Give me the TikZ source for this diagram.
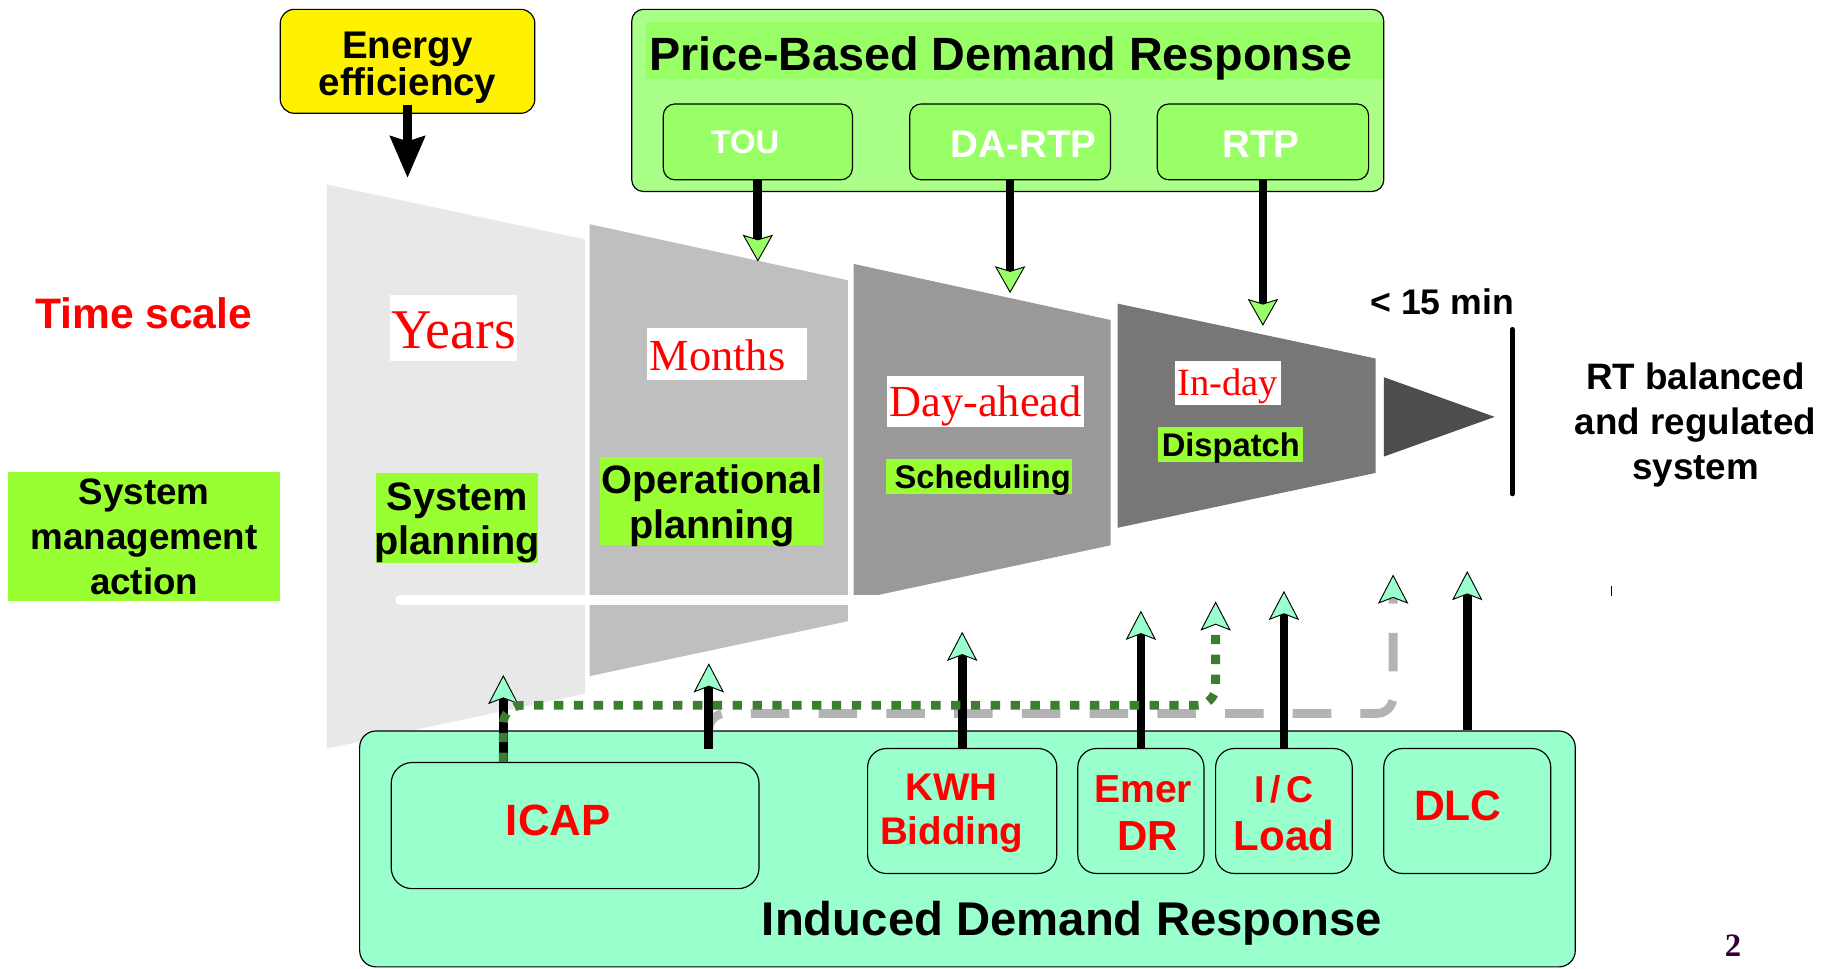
\documentclass[tikz,border=0pt]{standalone}
\usepackage{fontspec}
\setmainfont{Liberation Sans}
\newfontfamily\tnr{Liberation Serif}
\usetikzlibrary{arrows.meta}
\definecolor{pbouter}{RGB}{170,255,136}
\definecolor{pbinner}{RGB}{153,255,102}
\definecolor{lblgreen}{RGB}{153,255,51}
\definecolor{mint}{RGB}{153,255,204}
\definecolor{dkgreen}{RGB}{61,125,50}
\definecolor{dgray}{RGB}{179,179,179}
\definecolor{segA}{RGB}{232,232,232}
\definecolor{segB}{RGB}{191,191,191}
\definecolor{segC}{RGB}{153,153,153}
\definecolor{segD}{RGB}{119,119,119}
\definecolor{segE}{RGB}{77,77,77}
\definecolor{pagenum}{RGB}{51,0,51}
\newcommand{\fsz}[2]{\fontsize{#1}{#2}\selectfont}
\begin{document}
\begin{tikzpicture}[x=1pt,y=-1pt,
  rbox/.style={draw=black, line width=1pt, rounded corners=12pt, inner sep=0pt, align=center},
  greenlbl/.style={fill=lblgreen, inner sep=0pt},
  whitelbl/.style={fill=white, inner sep=0pt},
  txt/.style={inner sep=0pt, align=center},
  redserif/.style={inner sep=0pt, text=red},
  shaft/.style={line width=7.5pt, draw=black},
  downarrow/.style={-{Stealth[length=23pt,width=26pt,inset=4pt,fill=pbinner,color=black,line width=0.8pt]}},
  uparrow/.style={-{Stealth[length=25pt,width=26pt,inset=5pt,fill=mint,color=black,line width=0.8pt]}},
  blackarrow/.style={-{Stealth[length=36pt,width=31pt,inset=5pt,fill=black,color=black,line width=0.8pt]}}
]
\useasboundingbox (0,0) rectangle (1568,829);

% funnel
\fill[segA] (280,158) -- (501,205) -- (501,594) -- (280,641) -- cycle;
\fill[segB] (505,192) -- (726,240) -- (726,532) -- (505,579) -- cycle;
\fill[segC] (731,226) -- (951,274) -- (951,467) -- (731,514) -- cycle;
\fill[segD] (957,260) -- (1178,307) -- (1178,405) -- (957,452) -- cycle;
\fill[segE] (1185,323) -- (1280,357) -- (1185,391) -- cycle;
\draw[white, line width=9pt, line cap=round] (343,514) -- (760,514);
\draw[line width=4pt, line cap=round] (1295,282) -- (1295,423);
\draw[line width=1.5pt] (1380,502) -- (1380,510);

% energy efficiency
\node[rbox, fill=yellow, minimum width=218pt, minimum height=89pt] (energy) at (349,52.5) {};
\node[txt, font=\bfseries\fsz{33}{30}] (energytext) at (349,58) {Energy\\efficiency};
\coordinate (eatip) at (349,152);
\draw[shaft, blackarrow] ([yshift=8pt]energy.south) -- (eatip);

% price-based DR
\node[rbox, fill=pbouter, rounded corners=10pt, minimum width=644pt, minimum height=156pt] (pb) at (863,86) {};
\node[fill=pbinner, inner sep=0pt, minimum width=631pt, minimum height=49pt] (pbband) at (868.5,43.5) {};
\node[txt, font=\bfseries\fsz{40}{40}] (pbtitle) at (857,50) {Price-Based Demand Response};
\node[rbox, fill=pbinner, rounded corners=10pt, minimum width=162pt, minimum height=65pt] (tou) at (649,121.5) {};
\node[rbox, fill=pbinner, rounded corners=10pt, minimum width=172pt, minimum height=65pt] (dartp) at (865,121.5) {};
\node[rbox, fill=pbinner, rounded corners=10pt, minimum width=181pt, minimum height=65pt] (rtp) at (1081.5,121.5) {};
\node[txt, text=white, font=\bfseries\fsz{28}{28}] (toutext) at (638,121.5) {TOU};
\node[txt, text=white, font=\bfseries\fsz{33}{33}] (dartptext) at (876.5,123.5) {DA-RTP};
\node[txt, text=white, font=\bfseries\fsz{33}{33}] (rtptext) at (1080,123.5) {RTP};
\coordinate (toutip) at (649,224);
\coordinate (datip) at (865,251);
\coordinate (rtptip) at (1081.5,279);
\draw[shaft, downarrow] (tou.south) -- (toutip);
\draw[shaft, downarrow] (dartp.south) -- (datip);
\draw[shaft, downarrow] (rtp.south) -- (rtptip);

% left texts
\node[txt, text=red, font=\bfseries\fsz{36.5}{36.5}] (timescale) at (123,268) {Time scale};
\node[greenlbl, minimum width=233pt, minimum height=111pt] (smabox) at (123.5,459.5) {};
\node[txt, font=\bfseries\fsz{31.5}{38.5}] (sma) at (123.5,460) {System\\management\\action};

% time labels
\node[whitelbl, minimum width=109pt, minimum height=56pt] (yearsbox) at (388.5,281) {};
\node[redserif, font=\tnr\fsz{48}{48}] (years) at (388.5,283) {Years};
\node[whitelbl, minimum width=137pt, minimum height=44pt] (monthsbox) at (622.5,303) {};
\node[redserif, font=\tnr\fsz{38}{38}] (months) at (614.5,304) {Months};
\node[whitelbl, minimum width=168pt, minimum height=44pt] (dayaheadbox) at (844,344) {};
\node[redserif, font=\tnr\fsz{38}{38}] (dayahead) at (844,348) {Day-ahead};
\node[whitelbl, minimum width=91pt, minimum height=38pt] (indaybox) at (1051.5,328) {};
\node[redserif, font=\tnr\fsz{33}{33}] (inday) at (1051.5,331) {In-day};

% action labels
\node[greenlbl, minimum width=139pt, minimum height=77pt] (sysplanbox) at (391.5,443.5) {};
\node[txt, font=\bfseries\fsz{34}{38}] (sysplan) at (391.5,447.5) {System\\planning};
\node[greenlbl, minimum width=191pt, minimum height=76pt] (opplanbox) at (609.5,429) {};
\node[txt, font=\bfseries\fsz{34}{39}] (opplan) at (609.5,433) {Operational\\planning};
\node[greenlbl, minimum width=159pt, minimum height=30pt] (schedbox) at (838.5,408) {};
\node[txt, font=\bfseries\fsz{28}{28}] (sched) at (841.5,411) {Scheduling};
\node[greenlbl, minimum width=124pt, minimum height=30pt] (dispatchbox) at (1054,381) {};
\node[txt, font=\bfseries\fsz{28}{28}] (dispatch) at (1054,383.5) {Dispatch};

% right texts
\node[txt, font=\bfseries\fsz{30.5}{30.5}] (lt15) at (1235,258) {< 15 min};
\node[txt, font=\bfseries\fsz{31.5}{38.5}] (rt) at (1452,364) {RT balanced\\and regulated\\system};

% induced DR
\node[rbox, fill=mint, rounded corners=14pt, minimum width=1041pt, minimum height=202pt] (induced) at (828.5,727) {};
\node[txt, font=\bfseries\fsz{40.5}{40.5}] (idrtitle) at (918,791) {Induced Demand Response};
\node[rbox, rounded corners=18pt, minimum width=315pt, minimum height=108pt] (icap) at (492.5,707) {};
\node[rbox, rounded corners=16pt, minimum width=162pt, minimum height=107pt] (kwh) at (824,694.5) {};
\node[rbox, rounded corners=16pt, minimum width=108pt, minimum height=107pt] (emer) at (977,694.5) {};
\node[rbox, rounded corners=16pt, minimum width=117pt, minimum height=107pt] (ic) at (1099.5,694.5) {};
\node[rbox, rounded corners=16pt, minimum width=143pt, minimum height=107pt] (dlc) at (1256.5,694.5) {};
\node[txt, text=red, font=\bfseries\fsz{37.5}{37.5}] (icaptext) at (478,703) {ICAP};
\node[txt, text=red, font=\bfseries\fsz{33}{38}] (kwhtext) at (815,696.5) {KWH\\Bidding};
\node[txt, text=red, font=\bfseries\fsz{33.5}{41}] (emertext) at (979,696) {Emer\\{\fsz{36}{41}\hspace*{8pt}DR}};
\node[txt, text=red, font=\bfseries\fsz{32}{41}] (ictext) at (1099.5,696) {{\addfontfeature{LetterSpace=15}I/C}\\{\fsz{36}{41}Load}};
\node[txt, text=red, font=\bfseries\fsz{36.5}{36.5}] (dlctext) at (1248.5,690) {DLC};

% upward connectors
\coordinate (t1) at (431,578);
\coordinate (s2) at (607,641);
\coordinate (t2) at (607,568);
\coordinate (t3) at (824,541);
\coordinate (t4) at (977,523);
\coordinate (t5) at (1041,515);
\coordinate (t6) at (1099.5,506);
\coordinate (t7) at (1193,492);
\coordinate (t8) at (1256.5,489);

\draw[line width=7.5pt, draw=dgray, dash pattern=on 33pt off 25pt, dash phase=56pt, rounded corners=14pt, uparrow] (s2) -- (607,611) -- (1193,611) -- (t7);
\draw[shaft, uparrow] (icap.north -| t1) -- (t1);
\draw[shaft, uparrow] (s2) -- (t2);
\draw[shaft, uparrow] (kwh.north) -- (t3);
\draw[shaft, uparrow] (emer.north) -- (t4);
\draw[shaft, uparrow] (ic.north) -- (t6);
\draw[shaft, uparrow] (induced.north -| t8) -- (t8);
\draw[line width=7.5pt, draw=dkgreen, dash pattern=on 8pt off 9pt, rounded corners=16pt, uparrow] (icap.north -| t1) -- (431,604) -- (1041,604) -- (t5);

\node[txt, font=\tnr\bfseries\fsz{28}{28}, text=pagenum] (pg) at (1484,810) {2};
\end{tikzpicture}
\end{document}
